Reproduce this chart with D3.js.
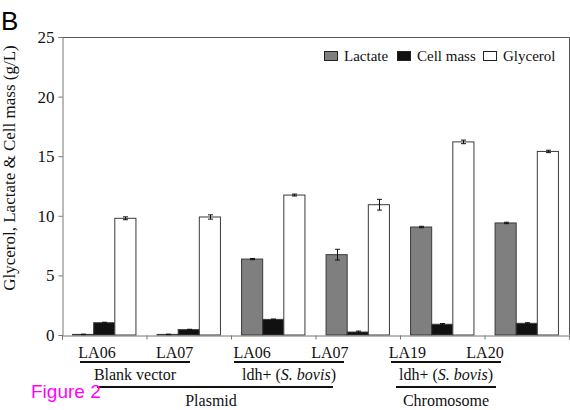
<!DOCTYPE html>
<html>
<head>
<meta charset="utf-8">
<script src="https://cdn.jsdelivr.net/npm/d3@7"></script>
<style>
  html, body { margin: 0; padding: 0; background: #fff; }
  svg { display: block; font-family: "Liberation Serif", "Times New Roman", serif; }
</style>
</head>
<body>
<svg id="chart" width="570" height="410"></svg>
<script>
// strains along the x axis
const strains = ["LA06", "LA07", "LA06", "LA07", "LA19", "LA20"];
const seriesNames = ["Lactate", "Cell mass", "Glycerol"];
const seriesColors = ["#7f7f7f", "#111111", "#ffffff"];

// values (g/L)
const lactate = [0.05, 0.05, 6.37, 6.74, 9.06, 9.40];
const cellMass = [1.03, 0.45, 1.31, 0.25, 0.90, 0.98];
const glycerol = [9.79, 9.90, 11.74, 10.93, 16.20, 15.40];

const lactateErr = [0.02, 0.02, 0.05, 0.45, 0.06, 0.06];
const cellMassErr = [0.04, 0.03, 0.03, 0.08, 0.06, 0.05];
const glycerolErr = [0.12, 0.18, 0.08, 0.45, 0.15, 0.10];

const yTicks = [0, 5, 10, 15, 20, 25];

const svg = d3.select("#chart");
const pLeft = 62, pRight = 569, pTop = 37, pBottom = 335;

const x = d3.scaleBand().domain(d3.range(strains.length)).range([pLeft, pRight]).padding(0);
const xs = d3.scaleBand().domain(d3.range(3)).range([0, x.bandwidth()]).paddingOuter(0.5).paddingInner(0);
const y = d3.scaleLinear().domain([0, 25]).range([pBottom, pTop]);

const values = [lactate, cellMass, glycerol];
const errs = [lactateErr, cellMassErr, glycerolErr];

const rows = [];
strains.forEach((s, i) => {
  values.forEach((arr, k) => rows.push({ i, k, v: arr[i], e: errs[k][i] }));
});

// frame: top and right border
svg.append("path")
  .attr("d", `M${pLeft},${pTop + 0.5}H${pRight + 0.5}V${pBottom}`)
  .attr("fill", "none").attr("stroke", "#555").attr("stroke-width", 1);

// bars
svg.append("g").selectAll("rect").data(rows).join("rect")
  .attr("x", d => x(d.i) + xs(d.k))
  .attr("y", d => y(d.v))
  .attr("width", xs.bandwidth())
  .attr("height", d => y(0) - y(d.v))
  .attr("fill", d => seriesColors[d.k])
  .attr("stroke", "#3a3a3a")
  .attr("stroke-width", 1);

// error bars
const eg = svg.append("g").attr("stroke", "#111").attr("stroke-width", 1);
rows.forEach(d => {
  const cx = Math.round(x(d.i) + xs(d.k) + xs.bandwidth() / 2) + 0.5;
  const y1 = y(d.v + d.e), y2 = y(Math.max(0, d.v - d.e));
  eg.append("line").attr("x1", cx).attr("x2", cx).attr("y1", y1).attr("y2", y2);
  eg.append("line").attr("x1", cx - 2.5).attr("x2", cx + 2.5).attr("y1", y1).attr("y2", y1);
  eg.append("line").attr("x1", cx - 2.5).attr("x2", cx + 2.5).attr("y1", y2).attr("y2", y2);
});

// y axis
const yAxis = svg.append("g").attr("transform", `translate(${pLeft + 0.5},0)`)
  .call(d3.axisLeft(y).tickValues(yTicks).tickSize(4).tickPadding(4));
yAxis.select(".domain").attr("stroke", "#777");
yAxis.selectAll(".tick line").attr("stroke", "#777");
yAxis.selectAll(".tick text").attr("font-size", 17).attr("fill", "#111")
  .attr("font-family", "Liberation Serif");

// x axis (band boundaries as ticks)
const xAxisScale = d3.scaleLinear().domain([0, strains.length]).range([pLeft, pRight]);
const xAxis = svg.append("g").attr("transform", `translate(0,${pBottom + 0.5})`)
  .call(d3.axisBottom(xAxisScale).tickValues(d3.range(strains.length + 1)).tickSize(4).tickFormat(""));
xAxis.select(".domain").attr("stroke", "#777");
xAxis.selectAll(".tick line").attr("stroke", "#777");

// strain labels
const lx = d3.scaleLinear().domain([0, strains.length - 1]).range([97, 485]);
svg.append("g").selectAll("text").data(strains).join("text")
  .attr("x", (d, i) => lx(i)).attr("y", 358)
  .attr("text-anchor", "middle").attr("font-size", 16).attr("fill", "#111")
  .text(d => d);

// group brackets
const groupLines = [
  { x1: 80, x2: 190, y: 362 },
  { x1: 234, x2: 344, y: 362 },
  { x1: 391, x2: 501, y: 362 },
  { x1: 97, x2: 333, y: 387 },
  { x1: 396, x2: 496, y: 387 }
];
svg.append("g").selectAll("line").data(groupLines).join("line")
  .attr("x1", d => d.x1).attr("x2", d => d.x2)
  .attr("y1", d => d.y).attr("y2", d => d.y)
  .attr("stroke", "#111").attr("stroke-width", 2);

function groupLabel(cx, yy, parts) {
  const t = svg.append("text").attr("x", cx).attr("y", yy)
    .attr("text-anchor", "middle").attr("font-size", 16).attr("fill", "#111");
  parts.forEach(p => {
    const ts = t.append("tspan").text(p.t);
    if (p.i) ts.attr("font-style", "italic");
  });
}
groupLabel(135, 380, [{ t: "Blank vector" }]);
groupLabel(289, 380, [{ t: "ldh+ (" }, { t: "S. bovis", i: true }, { t: ")" }]);
groupLabel(446, 380, [{ t: "ldh+ (" }, { t: "S. bovis", i: true }, { t: ")" }]);
groupLabel(211, 406, [{ t: "Plasmid" }]);
groupLabel(446, 406, [{ t: "Chromosome" }]);

// y axis title
svg.append("text")
  .attr("transform", "translate(15,168) rotate(-90)")
  .attr("text-anchor", "middle").attr("font-size", 17).attr("fill", "#111")
  .text("Glycerol, Lactate & Cell mass (g/L)");

// legend
const legendX = [324, 397, 483];
const lg = svg.append("g");
seriesNames.forEach((name, k) => {
  lg.append("rect").attr("x", legendX[k] + 0.5).attr("y", 51.5).attr("width", 13).attr("height", 9)
    .attr("fill", seriesColors[k]).attr("stroke", "#222");
  lg.append("text").attr("x", legendX[k] + 20).attr("y", 61)
    .attr("font-size", 15).attr("fill", "#111").text(name);
});

// panel letter and figure tag
svg.append("text").attr("x", 1).attr("y", 30)
  .attr("font-family", "Liberation Sans, Arial, sans-serif").attr("font-size", 26).attr("fill", "#000").text("B");
svg.append("text").attr("x", 31).attr("y", 398)
  .attr("font-family", "Liberation Sans, Arial, sans-serif").attr("font-size", 19).attr("fill", "#ff00ff").text("Figure 2");
</script>
</body>
</html>
